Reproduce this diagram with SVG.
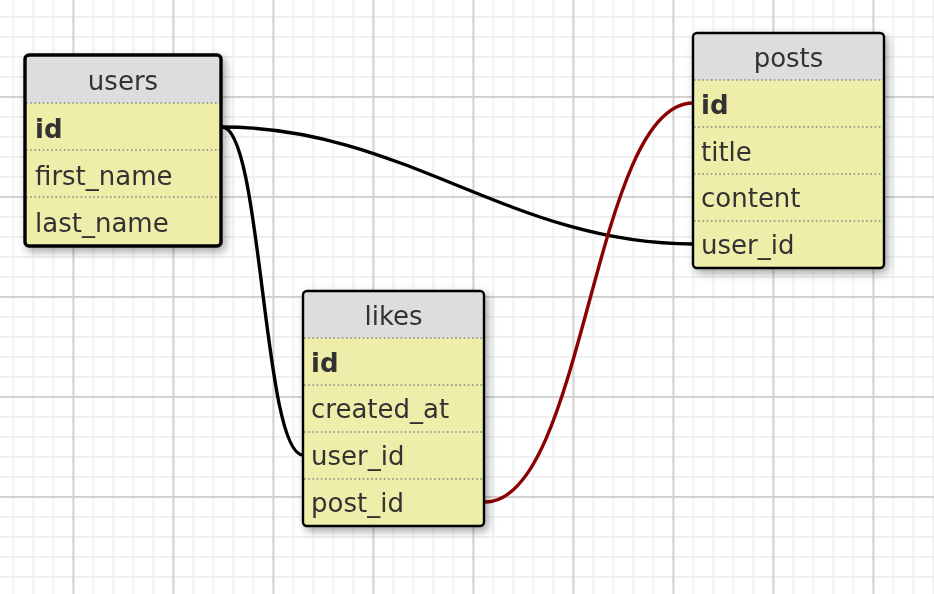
<svg xmlns="http://www.w3.org/2000/svg" width="934" height="594" viewBox="0 0 934 594">
<style>
.title{font-family:"DejaVu Sans",Verdana,sans-serif;font-size:26px;fill:#333;text-anchor:middle}
.row{font-family:"DejaVu Sans",Verdana,sans-serif;font-size:26px;fill:#333}
.pk{font-weight:bold}
.body{fill:#eeeeaa}
.head{fill:#dddddd}
.sep{stroke:#888;stroke-width:1.6;stroke-dasharray:1.6 2.6;fill:none}
.border{fill:none;stroke:#000;stroke-width:2.4}
.conn{fill:none;stroke-width:3.4}
</style>
<defs>
<pattern id="minor" x="12.5" y="16" width="20" height="20" patternUnits="userSpaceOnUse">
<rect x="0" y="0" width="1.6" height="20" fill="#ededed"/>
<rect x="0" y="0" width="20" height="1.6" fill="#ededed"/>
</pattern>
<pattern id="major" x="72.5" y="96" width="100" height="100" patternUnits="userSpaceOnUse">
<rect x="0" y="0" width="1.8" height="100" fill="#cfcfcf"/>
<rect x="0" y="0" width="100" height="1.8" fill="#cfcfcf"/>
</pattern>
<filter id="shadow" x="-10%" y="-10%" width="130%" height="130%">
<feDropShadow dx="3" dy="4" stdDeviation="4" flood-color="#000" flood-opacity="0.35"/>
</filter>
</defs>
<rect width="934" height="594" fill="#fff"/>
<rect width="934" height="594" fill="url(#minor)"/>
<rect width="934" height="594" fill="url(#major)"/>

<g id="connectors">
<path class="conn" stroke="#000" d="M 222 127 C 405 127, 510 244, 693 244"/>
<path class="conn" stroke="#000" d="M 222 127 C 262 127, 263 455, 303 455"/>
<path class="conn" stroke="#8b0000" d="M 485 502 C 585 502, 593 103, 693 103"/>
</g>

<g id="users" filter="url(#shadow)">
<rect class="body" x="25" y="55" width="196" height="191" rx="4"/>
<path class="head" d="M25 103 V59 Q25 55 29 55 H217 Q221 55 221 59 V103 Z"/>
<line class="sep" x1="26" y1="103" x2="220" y2="103"/>
<line class="sep" x1="26" y1="150" x2="220" y2="150"/>
<line class="sep" x1="26" y1="197" x2="220" y2="197"/>
<rect class="border" x="25" y="55" width="196" height="191" rx="4" style="stroke-width:3.4"/>
<text class="title" x="123" y="90">users</text>
<text class="row pk" x="35" y="138">id</text>
<text class="row" x="35" y="185">first_name</text>
<text class="row" x="35" y="232">last_name</text>
</g>

<g id="posts" filter="url(#shadow)">
<rect class="body" x="693" y="33" width="191" height="235" rx="4"/>
<path class="head" d="M693 80 V37 Q693 33 697 33 H880 Q884 33 884 37 V80 Z"/>
<line class="sep" x1="694" y1="80" x2="883" y2="80"/>
<line class="sep" x1="694" y1="127" x2="883" y2="127"/>
<line class="sep" x1="694" y1="174" x2="883" y2="174"/>
<line class="sep" x1="694" y1="221" x2="883" y2="221"/>
<rect class="border" x="693" y="33" width="191" height="235" rx="4"/>
<text class="title" x="788.5" y="67">posts</text>
<text class="row pk" x="701" y="114">id</text>
<text class="row" x="701" y="161">title</text>
<text class="row" x="701" y="207">content</text>
<text class="row" x="701" y="254">user_id</text>
</g>

<g id="likes" filter="url(#shadow)">
<rect class="body" x="303" y="291" width="181" height="235" rx="4"/>
<path class="head" d="M303 338 V295 Q303 291 307 291 H480 Q484 291 484 295 V338 Z"/>
<line class="sep" x1="304" y1="338" x2="483" y2="338"/>
<line class="sep" x1="304" y1="385" x2="483" y2="385"/>
<line class="sep" x1="304" y1="432" x2="483" y2="432"/>
<line class="sep" x1="304" y1="479" x2="483" y2="479"/>
<rect class="border" x="303" y="291" width="181" height="235" rx="4"/>
<text class="title" x="393.5" y="325">likes</text>
<text class="row pk" x="311" y="372">id</text>
<text class="row" x="311" y="418">created_at</text>
<text class="row" x="311" y="465">user_id</text>
<text class="row" x="311" y="512">post_id</text>
</g>
</svg>
